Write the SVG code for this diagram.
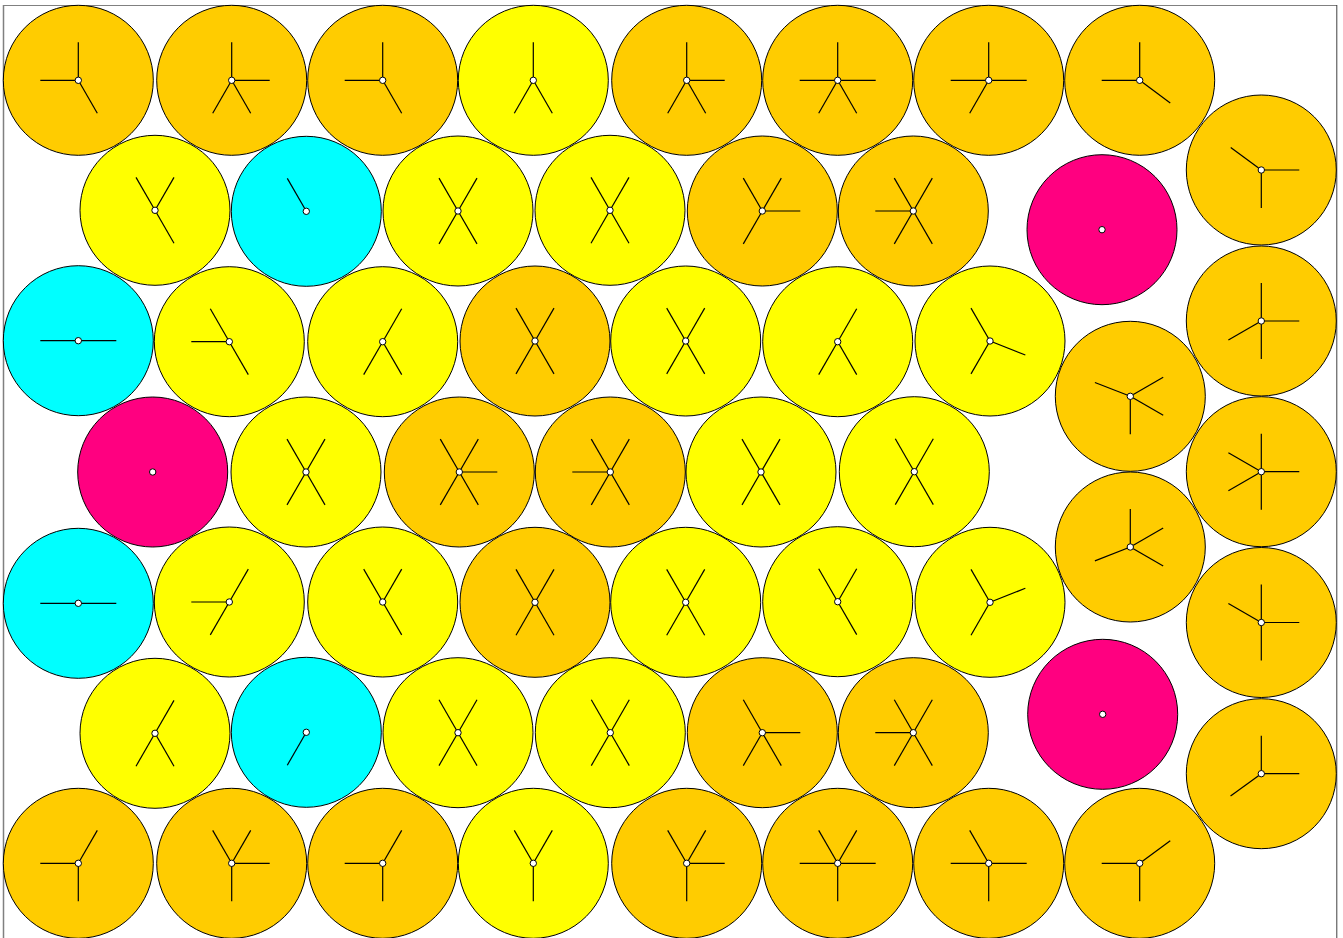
<svg xmlns="http://www.w3.org/2000/svg" xmlns:xlink="http://www.w3.org/1999/xlink" width="1343" height="938" viewBox="0 0 1343 938">
<style>
.b{stroke:#000;stroke-width:1}
.o{fill:#FFCC00}
.y{fill:#FFFF00}
.c{fill:#00FFFF}
.m{fill:#FF0080}
.d{fill:#fff;stroke:#000;stroke-width:1}
</style>
<defs>
<line id="s" x1="0" y1="0" x2="38" y2="0" stroke="#000" stroke-width="1.2"/>
<circle id="dot" r="3.2" class="d"/>
</defs>
<rect width="1343" height="938" fill="#fff"/>
<line x1="3.5" y1="5" x2="3.5" y2="938" stroke="#808080" stroke-width="1.5"/>
<line x1="3" y1="5.5" x2="1337" y2="5.5" stroke="#808080" stroke-width="1.2"/>
<line x1="1336.8" y1="5" x2="1336.8" y2="938" stroke="#404040" stroke-width="1"/>
<g id="connectors"></g>

<g id="n1" transform="translate(78.3,80.3)"><circle r="75" class="b o"/><use xlink:href="#s" transform="rotate(-90)"/><use xlink:href="#s" transform="rotate(180)"/><use xlink:href="#s" transform="rotate(60)"/><use xlink:href="#dot"/></g>
<g id="n2" transform="translate(231.7,80.3)"><circle r="75" class="b o"/><use xlink:href="#s" transform="rotate(-90)"/><use xlink:href="#s" transform="rotate(0)"/><use xlink:href="#s" transform="rotate(120)"/><use xlink:href="#s" transform="rotate(60)"/><use xlink:href="#dot"/></g>
<g id="n3" transform="translate(382.7,80.3)"><circle r="75" class="b o"/><use xlink:href="#s" transform="rotate(-90)"/><use xlink:href="#s" transform="rotate(180)"/><use xlink:href="#s" transform="rotate(60)"/><use xlink:href="#dot"/></g>
<g id="n4" transform="translate(533.3,80.3)"><circle r="75" class="b y"/><use xlink:href="#s" transform="rotate(-90)"/><use xlink:href="#s" transform="rotate(120)"/><use xlink:href="#s" transform="rotate(60)"/><use xlink:href="#dot"/></g>
<g id="n5" transform="translate(686.7,80.3)"><circle r="75" class="b o"/><use xlink:href="#s" transform="rotate(-90)"/><use xlink:href="#s" transform="rotate(0)"/><use xlink:href="#s" transform="rotate(120)"/><use xlink:href="#s" transform="rotate(60)"/><use xlink:href="#dot"/></g>
<g id="n6" transform="translate(837.7,80.3)"><circle r="75" class="b o"/><use xlink:href="#s" transform="rotate(-90)"/><use xlink:href="#s" transform="rotate(180)"/><use xlink:href="#s" transform="rotate(0)"/><use xlink:href="#s" transform="rotate(120)"/><use xlink:href="#s" transform="rotate(60)"/><use xlink:href="#dot"/></g>
<g id="n7" transform="translate(988.7,80.3)"><circle r="75" class="b o"/><use xlink:href="#s" transform="rotate(-90)"/><use xlink:href="#s" transform="rotate(180)"/><use xlink:href="#s" transform="rotate(0)"/><use xlink:href="#s" transform="rotate(120)"/><use xlink:href="#dot"/></g>
<g id="n8" transform="translate(1139.7,80.3)"><circle r="75" class="b o"/><use xlink:href="#s" transform="rotate(-90)"/><use xlink:href="#s" transform="rotate(180)"/><use xlink:href="#s" transform="rotate(36.5)"/><use xlink:href="#dot"/></g>

<g id="n9" transform="translate(155,210.3)"><circle r="75" class="b y"/><use xlink:href="#s" transform="rotate(240)"/><use xlink:href="#s" transform="rotate(300)"/><use xlink:href="#s" transform="rotate(60)"/><use xlink:href="#dot"/></g>
<g id="n10" transform="translate(306.3,211.3)"><circle r="75" class="b c"/><use xlink:href="#s" transform="rotate(240)"/><use xlink:href="#dot"/></g>
<g id="n11" transform="translate(458,211)"><circle r="75" class="b y"/><use xlink:href="#s" transform="rotate(240)"/><use xlink:href="#s" transform="rotate(300)"/><use xlink:href="#s" transform="rotate(60)"/><use xlink:href="#s" transform="rotate(120)"/><use xlink:href="#dot"/></g>
<g id="n12" transform="translate(610,210.3)"><circle r="75" class="b y"/><use xlink:href="#s" transform="rotate(240)"/><use xlink:href="#s" transform="rotate(300)"/><use xlink:href="#s" transform="rotate(60)"/><use xlink:href="#s" transform="rotate(120)"/><use xlink:href="#dot"/></g>
<g id="n13" transform="translate(762.3,211)"><circle r="75" class="b o"/><use xlink:href="#s" transform="rotate(240)"/><use xlink:href="#s" transform="rotate(300)"/><use xlink:href="#s" transform="rotate(0)"/><use xlink:href="#s" transform="rotate(120)"/><use xlink:href="#dot"/></g>
<g id="n14" transform="translate(913.3,211)"><circle r="75" class="b o"/><use xlink:href="#s" transform="rotate(180)"/><use xlink:href="#s" transform="rotate(240)"/><use xlink:href="#s" transform="rotate(300)"/><use xlink:href="#s" transform="rotate(60)"/><use xlink:href="#s" transform="rotate(120)"/><use xlink:href="#dot"/></g>
<g id="n15" transform="translate(1102,229.7)"><circle r="75" class="b m"/><use xlink:href="#dot"/></g>

<g id="n16" transform="translate(1261.3,170)"><circle r="75" class="b o"/><use xlink:href="#s" transform="rotate(216.4)"/><use xlink:href="#s" transform="rotate(0)"/><use xlink:href="#s" transform="rotate(90)"/><use xlink:href="#dot"/></g>
<g id="n17" transform="translate(1261.3,321)"><circle r="75" class="b o"/><use xlink:href="#s" transform="rotate(-90)"/><use xlink:href="#s" transform="rotate(0)"/><use xlink:href="#s" transform="rotate(90)"/><use xlink:href="#s" transform="rotate(150)"/><use xlink:href="#dot"/></g>
<g id="n18" transform="translate(1261.3,471.7)"><circle r="75" class="b o"/><use xlink:href="#s" transform="rotate(-90)"/><use xlink:href="#s" transform="rotate(0)"/><use xlink:href="#s" transform="rotate(90)"/><use xlink:href="#s" transform="rotate(210)"/><use xlink:href="#s" transform="rotate(150)"/><use xlink:href="#dot"/></g>
<g id="n19" transform="translate(1261.3,622.5)"><circle r="75" class="b o"/><use xlink:href="#s" transform="rotate(-90)"/><use xlink:href="#s" transform="rotate(210)"/><use xlink:href="#s" transform="rotate(0)"/><use xlink:href="#s" transform="rotate(90)"/><use xlink:href="#dot"/></g>
<g id="n20" transform="translate(1261.3,773.7)"><circle r="75" class="b o"/><use xlink:href="#s" transform="rotate(-90)"/><use xlink:href="#s" transform="rotate(0)"/><use xlink:href="#s" transform="rotate(144)"/><use xlink:href="#dot"/></g>
<g id="n21" transform="translate(1130.3,396.3)"><circle r="75" class="b o"/><use xlink:href="#s" transform="rotate(201.4)"/><use xlink:href="#s" transform="rotate(-30)"/><use xlink:href="#s" transform="rotate(30)"/><use xlink:href="#s" transform="rotate(90)"/><use xlink:href="#dot"/></g>
<g id="n22" transform="translate(1130.3,547)"><circle r="75" class="b o"/><use xlink:href="#s" transform="rotate(-90)"/><use xlink:href="#s" transform="rotate(-30)"/><use xlink:href="#s" transform="rotate(30)"/><use xlink:href="#s" transform="rotate(158.6)"/><use xlink:href="#dot"/></g>
<g id="n23" transform="translate(1102.7,714.3)"><circle r="75" class="b m"/><use xlink:href="#dot"/></g>

<g id="n24" transform="translate(78.3,340.7)"><circle r="75" class="b c"/><use xlink:href="#s" transform="rotate(180)"/><use xlink:href="#s" transform="rotate(0)"/><use xlink:href="#dot"/></g>
<g id="n25" transform="translate(229.3,341.7)"><circle r="75" class="b y"/><use xlink:href="#s" transform="rotate(180)"/><use xlink:href="#s" transform="rotate(240)"/><use xlink:href="#s" transform="rotate(60)"/><use xlink:href="#dot"/></g>
<g id="n26" transform="translate(382.7,341.7)"><circle r="75" class="b y"/><use xlink:href="#s" transform="rotate(300)"/><use xlink:href="#s" transform="rotate(120)"/><use xlink:href="#s" transform="rotate(60)"/><use xlink:href="#dot"/></g>
<g id="n27" transform="translate(535,341)"><circle r="75" class="b o"/><use xlink:href="#s" transform="rotate(240)"/><use xlink:href="#s" transform="rotate(300)"/><use xlink:href="#s" transform="rotate(60)"/><use xlink:href="#s" transform="rotate(120)"/><use xlink:href="#dot"/></g>
<g id="n28" transform="translate(685.7,341)"><circle r="75" class="b y"/><use xlink:href="#s" transform="rotate(240)"/><use xlink:href="#s" transform="rotate(300)"/><use xlink:href="#s" transform="rotate(60)"/><use xlink:href="#s" transform="rotate(120)"/><use xlink:href="#dot"/></g>
<g id="n29" transform="translate(837.7,341.7)"><circle r="75" class="b y"/><use xlink:href="#s" transform="rotate(300)"/><use xlink:href="#s" transform="rotate(120)"/><use xlink:href="#s" transform="rotate(60)"/><use xlink:href="#dot"/></g>
<g id="n30" transform="translate(990,341)"><circle r="75" class="b y"/><use xlink:href="#s" transform="rotate(240)"/><use xlink:href="#s" transform="rotate(21.6)"/><use xlink:href="#s" transform="rotate(120)"/><use xlink:href="#dot"/></g>

<g id="n31" transform="translate(152.7,472)"><circle r="75" class="b m"/><use xlink:href="#dot"/></g>
<g id="n32" transform="translate(306,472)"><circle r="75" class="b y"/><use xlink:href="#s" transform="rotate(240)"/><use xlink:href="#s" transform="rotate(300)"/><use xlink:href="#s" transform="rotate(60)"/><use xlink:href="#s" transform="rotate(120)"/><use xlink:href="#dot"/></g>
<g id="n33" transform="translate(459.3,472)"><circle r="75" class="b o"/><use xlink:href="#s" transform="rotate(240)"/><use xlink:href="#s" transform="rotate(300)"/><use xlink:href="#s" transform="rotate(60)"/><use xlink:href="#s" transform="rotate(120)"/><use xlink:href="#s" transform="rotate(0)"/><use xlink:href="#dot"/></g>
<g id="n34" transform="translate(610.3,472)"><circle r="75" class="b o"/><use xlink:href="#s" transform="rotate(240)"/><use xlink:href="#s" transform="rotate(300)"/><use xlink:href="#s" transform="rotate(60)"/><use xlink:href="#s" transform="rotate(120)"/><use xlink:href="#s" transform="rotate(180)"/><use xlink:href="#dot"/></g>
<g id="n35" transform="translate(761,472)"><circle r="75" class="b y"/><use xlink:href="#s" transform="rotate(240)"/><use xlink:href="#s" transform="rotate(300)"/><use xlink:href="#s" transform="rotate(60)"/><use xlink:href="#s" transform="rotate(120)"/><use xlink:href="#dot"/></g>
<g id="n36" transform="translate(914.3,471.7)"><circle r="75" class="b y"/><use xlink:href="#s" transform="rotate(240)"/><use xlink:href="#s" transform="rotate(300)"/><use xlink:href="#s" transform="rotate(60)"/><use xlink:href="#s" transform="rotate(120)"/><use xlink:href="#dot"/></g>

<g id="n37" transform="translate(78.3,603.3)"><circle r="75" class="b c"/><use xlink:href="#s" transform="rotate(180)"/><use xlink:href="#s" transform="rotate(0)"/><use xlink:href="#dot"/></g>
<g id="n38" transform="translate(229.3,602)"><circle r="75" class="b y"/><use xlink:href="#s" transform="rotate(180)"/><use xlink:href="#s" transform="rotate(300)"/><use xlink:href="#s" transform="rotate(120)"/><use xlink:href="#dot"/></g>
<g id="n39" transform="translate(382.7,602)"><circle r="75" class="b y"/><use xlink:href="#s" transform="rotate(240)"/><use xlink:href="#s" transform="rotate(300)"/><use xlink:href="#s" transform="rotate(60)"/><use xlink:href="#dot"/></g>
<g id="n40" transform="translate(535,602.3)"><circle r="75" class="b o"/><use xlink:href="#s" transform="rotate(240)"/><use xlink:href="#s" transform="rotate(300)"/><use xlink:href="#s" transform="rotate(60)"/><use xlink:href="#s" transform="rotate(120)"/><use xlink:href="#dot"/></g>
<g id="n41" transform="translate(685.7,602.3)"><circle r="75" class="b y"/><use xlink:href="#s" transform="rotate(240)"/><use xlink:href="#s" transform="rotate(300)"/><use xlink:href="#s" transform="rotate(60)"/><use xlink:href="#s" transform="rotate(120)"/><use xlink:href="#dot"/></g>
<g id="n42" transform="translate(837.7,601.7)"><circle r="75" class="b y"/><use xlink:href="#s" transform="rotate(240)"/><use xlink:href="#s" transform="rotate(300)"/><use xlink:href="#s" transform="rotate(60)"/><use xlink:href="#dot"/></g>
<g id="n43" transform="translate(990,602.3)"><circle r="75" class="b y"/><use xlink:href="#s" transform="rotate(240)"/><use xlink:href="#s" transform="rotate(-21.6)"/><use xlink:href="#s" transform="rotate(120)"/><use xlink:href="#dot"/></g>

<g id="n44" transform="translate(155,733.3)"><circle r="75" class="b y"/><use xlink:href="#s" transform="rotate(300)"/><use xlink:href="#s" transform="rotate(120)"/><use xlink:href="#s" transform="rotate(60)"/><use xlink:href="#dot"/></g>
<g id="n45" transform="translate(306.3,732.3)"><circle r="75" class="b c"/><use xlink:href="#s" transform="rotate(120)"/><use xlink:href="#dot"/></g>
<g id="n46" transform="translate(458,732.7)"><circle r="75" class="b y"/><use xlink:href="#s" transform="rotate(240)"/><use xlink:href="#s" transform="rotate(300)"/><use xlink:href="#s" transform="rotate(60)"/><use xlink:href="#s" transform="rotate(120)"/><use xlink:href="#dot"/></g>
<g id="n47" transform="translate(610.3,732.7)"><circle r="75" class="b y"/><use xlink:href="#s" transform="rotate(240)"/><use xlink:href="#s" transform="rotate(300)"/><use xlink:href="#s" transform="rotate(60)"/><use xlink:href="#s" transform="rotate(120)"/><use xlink:href="#dot"/></g>
<g id="n48" transform="translate(762.3,732.7)"><circle r="75" class="b o"/><use xlink:href="#s" transform="rotate(240)"/><use xlink:href="#s" transform="rotate(0)"/><use xlink:href="#s" transform="rotate(120)"/><use xlink:href="#s" transform="rotate(60)"/><use xlink:href="#dot"/></g>
<g id="n49" transform="translate(913.3,732.7)"><circle r="75" class="b o"/><use xlink:href="#s" transform="rotate(180)"/><use xlink:href="#s" transform="rotate(240)"/><use xlink:href="#s" transform="rotate(300)"/><use xlink:href="#s" transform="rotate(60)"/><use xlink:href="#s" transform="rotate(120)"/><use xlink:href="#dot"/></g>

<g id="n50" transform="translate(78.3,863.3)"><circle r="75" class="b o"/><use xlink:href="#s" transform="rotate(180)"/><use xlink:href="#s" transform="rotate(300)"/><use xlink:href="#s" transform="rotate(90)"/><use xlink:href="#dot"/></g>
<g id="n51" transform="translate(231.7,863.3)"><circle r="75" class="b o"/><use xlink:href="#s" transform="rotate(240)"/><use xlink:href="#s" transform="rotate(300)"/><use xlink:href="#s" transform="rotate(0)"/><use xlink:href="#s" transform="rotate(90)"/><use xlink:href="#dot"/></g>
<g id="n52" transform="translate(382.7,863.3)"><circle r="75" class="b o"/><use xlink:href="#s" transform="rotate(180)"/><use xlink:href="#s" transform="rotate(300)"/><use xlink:href="#s" transform="rotate(90)"/><use xlink:href="#dot"/></g>
<g id="n53" transform="translate(533.3,863.3)"><circle r="75" class="b y"/><use xlink:href="#s" transform="rotate(240)"/><use xlink:href="#s" transform="rotate(300)"/><use xlink:href="#s" transform="rotate(90)"/><use xlink:href="#dot"/></g>
<g id="n54" transform="translate(686.7,863.3)"><circle r="75" class="b o"/><use xlink:href="#s" transform="rotate(240)"/><use xlink:href="#s" transform="rotate(300)"/><use xlink:href="#s" transform="rotate(0)"/><use xlink:href="#s" transform="rotate(90)"/><use xlink:href="#dot"/></g>
<g id="n55" transform="translate(837.7,863.3)"><circle r="75" class="b o"/><use xlink:href="#s" transform="rotate(240)"/><use xlink:href="#s" transform="rotate(300)"/><use xlink:href="#s" transform="rotate(180)"/><use xlink:href="#s" transform="rotate(0)"/><use xlink:href="#s" transform="rotate(90)"/><use xlink:href="#dot"/></g>
<g id="n56" transform="translate(988.7,863.3)"><circle r="75" class="b o"/><use xlink:href="#s" transform="rotate(240)"/><use xlink:href="#s" transform="rotate(180)"/><use xlink:href="#s" transform="rotate(0)"/><use xlink:href="#s" transform="rotate(90)"/><use xlink:href="#dot"/></g>
<g id="n57" transform="translate(1139.7,863.3)"><circle r="75" class="b o"/><use xlink:href="#s" transform="rotate(180)"/><use xlink:href="#s" transform="rotate(90)"/><use xlink:href="#s" transform="rotate(-36.5)"/><use xlink:href="#dot"/></g>
</svg>
